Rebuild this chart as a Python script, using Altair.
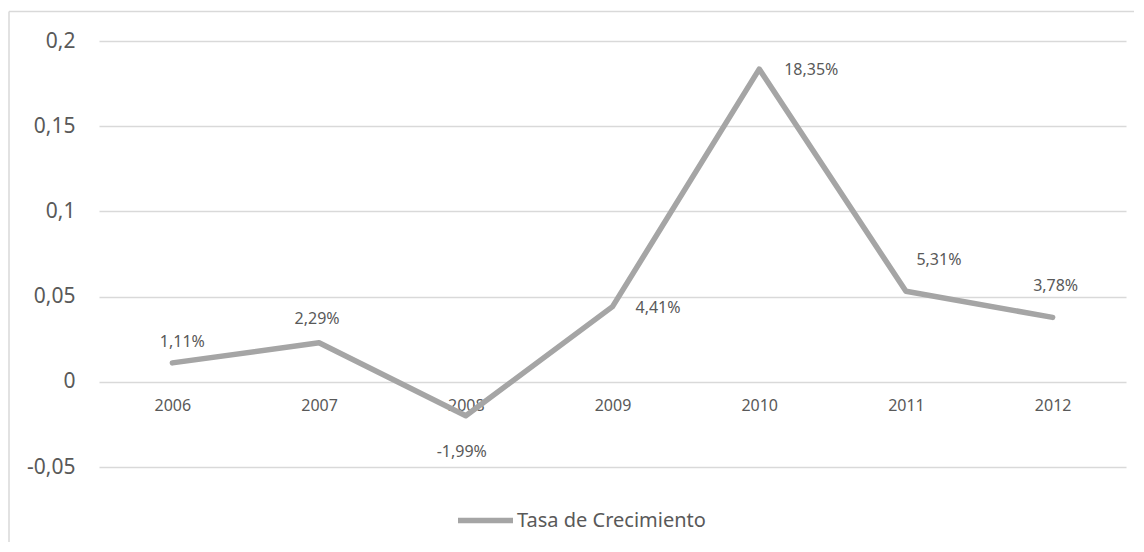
import altair as alt
import pandas as pd

years = ["2006", "2007", "2008", "2009", "2010", "2011", "2012"]
growth = [0.0111, 0.0229, -0.0199, 0.0441, 0.1835, 0.0531, 0.0378]
series_name = "Tasa de Crecimiento"
y_tick_values = [-0.05, 0.0, 0.05, 0.1, 0.15, 0.2]
y_tick_labels = ["-0,05", "0", "0,05", "0,1", "0,15", "0,2"]

df = pd.DataFrame({
    "year": years,
    "value": growth,
    "series": [series_name] * len(years),
    "label": [f"{v * 100:.2f}%".replace(".", ",") for v in growth],
})

FONT = "Noto Sans"
TXT = "#595959"
GRID = "#d9d9d9"
LINE = "#a5a5a5"

W, H = 1027, 426
PAD = {"left": 91, "top": 33, "right": 8, "bottom": 75}

label_expr = ""
for v, l in zip(y_tick_values, y_tick_labels):
    label_expr += f"abs(datum.value - ({v})) < 1e-9 ? '{l}' : "
label_expr += "''"

x_enc = alt.X(
    "year:O",
    sort=years,
    axis=alt.Axis(
        title=None, labelAngle=0, domain=False, ticks=False, grid=False,
        offset=-85, labelPadding=15, labelFontSize=16, labelColor=TXT,
        labelFont=FONT,
    ),
)
y_enc = alt.Y(
    "value:Q",
    scale=alt.Scale(domain=[-0.05, 0.2], nice=False, zero=False),
    axis=alt.Axis(
        values=y_tick_values, labelExpr=label_expr, title=None, domain=False,
        ticks=False, labelPadding=24, labelFontSize=21, labelColor=TXT,
        labelFont=FONT, gridColor=GRID, gridWidth=1.3,
    ),
)

base = alt.Chart(df)

line = base.mark_line(strokeWidth=5.5, strokeCap="round", strokeJoin="round").encode(
    x=x_enc,
    y=y_enc,
    color=alt.Color(
        "series:N",
        scale=alt.Scale(domain=[series_name], range=[LINE]),
        legend=alt.Legend(
            title=None, orient="none", legendX=356, legendY=449,
            symbolType="stroke", symbolSize=3025, symbolStrokeWidth=5.5,
            labelFontSize=20, labelColor=TXT, labelFont=FONT, labelOffset=1,
            labelLimit=500,
        ),
    ),
)

# label placement (style only): year -> (align, dx, dy)
placement = {
    "2006": ("center", 10, -21),
    "2007": ("center", -2, -24),
    "2008": ("center", -4, 36),
    "2009": ("left", 23, 1),
    "2010": ("left", 25, 1),
    "2011": ("center", 33, -31),
    "2012": ("center", 3, -31),
}
labels = []
for yr, (al, dx, dy) in placement.items():
    labels.append(
        base.transform_filter(alt.datum.year == yr)
        .mark_text(align=al, baseline="middle", dx=dx, dy=dy, fontSize=16,
                   font=FONT, color=TXT)
        .encode(x=x_enc, y=y_enc, text="label:N")
    )

frame = alt.Data(values=[{}])
border_left = alt.Chart(frame).mark_rule(color=GRID, strokeWidth=1.5).encode(
    x=alt.value(-90), y=alt.value(-29.5), y2=alt.value(H + PAD["bottom"])
)
border_top = alt.Chart(frame).mark_rule(color=GRID, strokeWidth=1.5).encode(
    x=alt.value(-90), x2=alt.value(W + PAD["right"]), y=alt.value(-29.5)
)

chart = (
    alt.layer(border_left, border_top, line, *labels)
    .properties(width=W, height=H, padding=PAD,
                autosize=alt.AutoSizeParams(type="none"), background="white")
    .configure_view(stroke=None)
)

chart.save("out.html", embed_options={"renderer": "svg", "actions": False})
